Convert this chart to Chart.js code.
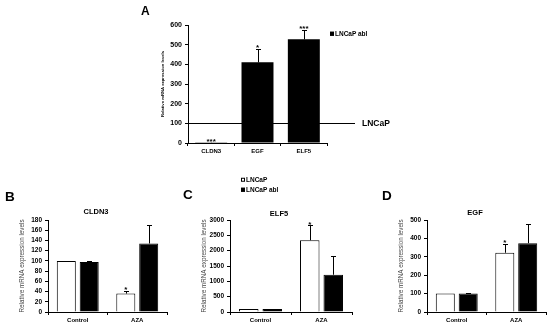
<!DOCTYPE html>
<html>
<head>
<meta charset="utf-8">
<script src="https://cdn.jsdelivr.net/npm/chart.js@4.4.0/dist/chart.umd.min.js"></script>
<style>
    html, body { margin: 0; padding: 0; background: #fff; }
    body { width: 550px; height: 328px; position: relative; overflow: hidden; font-family: "Liberation Sans", Arial, sans-serif; }
    canvas { position: absolute; }
    .txt { position: absolute; font-weight: bold; line-height: 1; white-space: nowrap; color: #000; }
    .panel { font-size: 13.5px; }
    .title { font-size: 7.5px; transform: translate(-50%, -50%); }
    .leg { font-size: 6.5px; display: flex; align-items: center; transform: translateY(-50%); }
    .sw { display: inline-block; box-sizing: border-box; width: 4px; height: 4px; border: 0.8px solid #000; margin-right: 1px; }
</style>
</head>
<body>
<canvas id="chartA" width="260" height="165" style="left:140px;top:0px"></canvas>
<canvas id="chartB" width="180" height="128" style="left:0px;top:200px"></canvas>
<canvas id="chartC" width="175" height="128" style="left:185px;top:200px"></canvas>
<canvas id="chartD" width="160" height="128" style="left:390px;top:200px"></canvas>

<div class="txt" style="left:141px;top:5px;font-size:12px">A</div>
<div class="txt panel" style="left:5px;top:190px">B</div>
<div class="txt panel" style="left:183px;top:188px">C</div>
<div class="txt panel" style="left:382px;top:189px">D</div>

<div class="txt title" id="titleB" style="left:96px;top:212px"></div>
<div class="txt title" id="titleC" style="left:279px;top:214px"></div>
<div class="txt title" id="titleD" style="left:475px;top:213px"></div>

<div class="txt leg" id="legA" style="left:330px;top:34px"></div>
<div class="txt leg" id="legC0" style="left:241px;top:180px"></div>
<div class="txt leg" id="legC1" style="left:241px;top:190px"></div>

<script>
const FONT = '"Liberation Sans", Arial, sans-serif';

// A: LNCaP abl relative to parental LNCaP (=100)
const genesA = ['CLDN3', 'EGF', 'ELF5'];
const ablA = [1, 410, 527];
const ablSdA = [0.5, 68, 48];
const starsA = ['***', '*', '***'];
const parentalLevel = 100;

// B-D: 5-aza treatment
const treatments = ['Control', 'AZA'];
const cellLines = ['LNCaP', 'LNCaP abl'];
const starsLncap = ['', '*'];

const cldn3Lncap = [100, 36];
const cldn3LncapSd = [0, 6];
const cldn3Abl = [98, 134];
const cldn3AblSd = [2, 36];

const elf5Lncap = [100, 2340];
const elf5LncapSd = [0, 490];
const elf5Abl = [100, 1215];
const elf5AblSd = [0, 610];

const egfLncap = [100, 322];
const egfLncapSd = [0, 48];
const egfAbl = [100, 374];
const egfAblSd = [2, 104];

// upper error bars + significance stars
const errorBars = {
    id: 'errorBars',
    afterDatasetsDraw(chart) {
        const ctx = chart.ctx;
        const yScale = chart.scales.y;
        chart.data.datasets.forEach((ds, i) => {
            const meta = chart.getDatasetMeta(i);
            meta.data.forEach((bar, j) => {
                const sd = ds.sd ? ds.sd[j] : 0;
                const top = yScale.getPixelForValue(ds.data[j] + sd);
                ctx.save();
                ctx.strokeStyle = '#000';
                ctx.lineWidth = 1;
                if (sd > 0) {
                    const x = Math.round(bar.x) + 0.5;
                    const yt = Math.round(top) + 0.5;
                    ctx.beginPath();
                    ctx.moveTo(x, bar.y);
                    ctx.lineTo(x, yt);
                    ctx.moveTo(x - 2.5, yt);
                    ctx.lineTo(x + 2.5, yt);
                    ctx.stroke();
                }
                const star = ds.stars ? ds.stars[j] : '';
                if (star) {
                    ctx.fillStyle = '#000';
                    ctx.font = 'bold 8px ' + FONT;
                    ctx.textAlign = 'center';
                    ctx.textBaseline = 'alphabetic';
                    ctx.fillText(star, bar.x, top + 1.5);
                }
                ctx.restore();
            });
        });
    }
};

// LNCaP = 100 reference line in panel A
const parentalLine = {
    id: 'parentalLine',
    afterDatasetsDraw(chart, args, opts) {
        if (!opts.label) return;
        const { ctx, chartArea } = chart;
        const y = Math.round(chart.scales.y.getPixelForValue(opts.level)) + 0.5;
        ctx.save();
        ctx.strokeStyle = '#000';
        ctx.lineWidth = 1;
        ctx.beginPath();
        ctx.moveTo(chartArea.left, y);
        ctx.lineTo(chartArea.right + 28, y);
        ctx.stroke();
        ctx.fillStyle = '#000';
        ctx.font = 'bold 8.5px ' + FONT;
        ctx.textBaseline = 'middle';
        ctx.fillText(opts.label, chartArea.right + 35, y);
        ctx.restore();
    }
};

function scalesFor(max, step, box, yTitle) {
    return {
        x: {
            ticks: { color: '#000', font: { family: FONT, size: box.xFont, weight: 'bold' }, padding: 2, maxRotation: 0, autoSkip: false },
            grid: { offset: true, drawOnChartArea: false, color: '#000', tickLength: 3 },
            border: { color: '#000', width: 1 },
            afterFit: s => { s.height = box.xHeight; }
        },
        y: {
            min: 0,
            max: max,
            ticks: { stepSize: step, autoSkip: false, color: '#000', padding: 3,
                     font: { family: FONT, size: box.yFont, weight: 'bold' },
                     callback: v => String(v) },
            grid: { drawOnChartArea: false, color: '#000', tickLength: 3 },
            border: { color: '#000', width: 1 },
            title: { display: true, text: 'Relative mRNA expression levels', color: yTitle.color, padding: 0,
                     font: { family: FONT, size: yTitle.size, weight: yTitle.weight } },
            afterFit: s => { s.width = box.yWidth; }
        }
    };
}

function baseOptions(box) {
    return {
        responsive: false,
        animation: false,
        devicePixelRatio: 1,
        layout: { padding: { left: box.padLeft, top: box.padTop, right: box.padRight, bottom: 0 } },
        plugins: { legend: { display: false }, tooltip: { enabled: false } }
    };
}

function drawPanelA() {
    const box = { padLeft: 20, yWidth: 28, padTop: 25, padRight: 73, xHeight: 22, xFont: 6, yFont: 7 };
    const options = baseOptions(box);
    options.scales = scalesFor(600, 100, box, { size: 4.2, weight: 'bold', color: '#000' });
    options.plugins.parentalLine = { level: parentalLevel, label: cellLines[0] };
    new Chart(document.getElementById('chartA'), {
        type: 'bar',
        data: {
            labels: genesA,
            datasets: [{
                label: cellLines[1],
                data: ablA,
                sd: ablSdA,
                stars: starsA,
                backgroundColor: '#000',
                borderWidth: 0,
                categoryPercentage: 0.69,
                barPercentage: 1
            }]
        },
        options: options,
        plugins: [errorBars, parentalLine]
    });
}

function drawGroupedPanel(id, lncap, lncapSd, abl, ablSd, max, step, box) {
    const options = baseOptions(box);
    options.scales = scalesFor(max, step, box, { size: 6.3, weight: 'normal', color: '#444' });
    new Chart(document.getElementById(id), {
        type: 'bar',
        data: {
            labels: treatments,
            datasets: [
                { label: cellLines[0], data: lncap, sd: lncapSd, stars: starsLncap,
                  backgroundColor: '#fff', borderColor: '#000', borderWidth: 1,
                  categoryPercentage: 0.77, barPercentage: 0.83 },
                { label: cellLines[1], data: abl, sd: ablSd,
                  backgroundColor: '#000', borderColor: '#000', borderWidth: 1,
                  categoryPercentage: 0.77, barPercentage: 0.83 }
            ]
        },
        options: options,
        plugins: [errorBars]
    });
}

function legendItem(el, name, fill) {
    el.innerHTML = '<span class="sw" style="background:' + fill + '"></span>' + name;
}

drawPanelA();
drawGroupedPanel('chartB', cldn3Lncap, cldn3LncapSd, cldn3Abl, cldn3AblSd, 180, 20,
    { padLeft: 18, yWidth: 30, padTop: 20, padRight: 13, xHeight: 16, xFont: 6, yFont: 6.5 });
drawGroupedPanel('chartC', elf5Lncap, elf5LncapSd, elf5Abl, elf5AblSd, 3000, 500,
    { padLeft: 15, yWidth: 30, padTop: 20, padRight: 8, xHeight: 16, xFont: 6, yFont: 6.5 });
drawGroupedPanel('chartD', egfLncap, egfLncapSd, egfAbl, egfAblSd, 500, 100,
    { padLeft: 7, yWidth: 30, padTop: 20, padRight: 4, xHeight: 16, xFont: 6, yFont: 6.5 });

document.getElementById('titleB').textContent = 'CLDN3';
document.getElementById('titleC').textContent = 'ELF5';
document.getElementById('titleD').textContent = 'EGF';
legendItem(document.getElementById('legA'), cellLines[1], '#000');
legendItem(document.getElementById('legC0'), cellLines[0], '#fff');
legendItem(document.getElementById('legC1'), cellLines[1], '#000');
</script>
</body>
</html>
